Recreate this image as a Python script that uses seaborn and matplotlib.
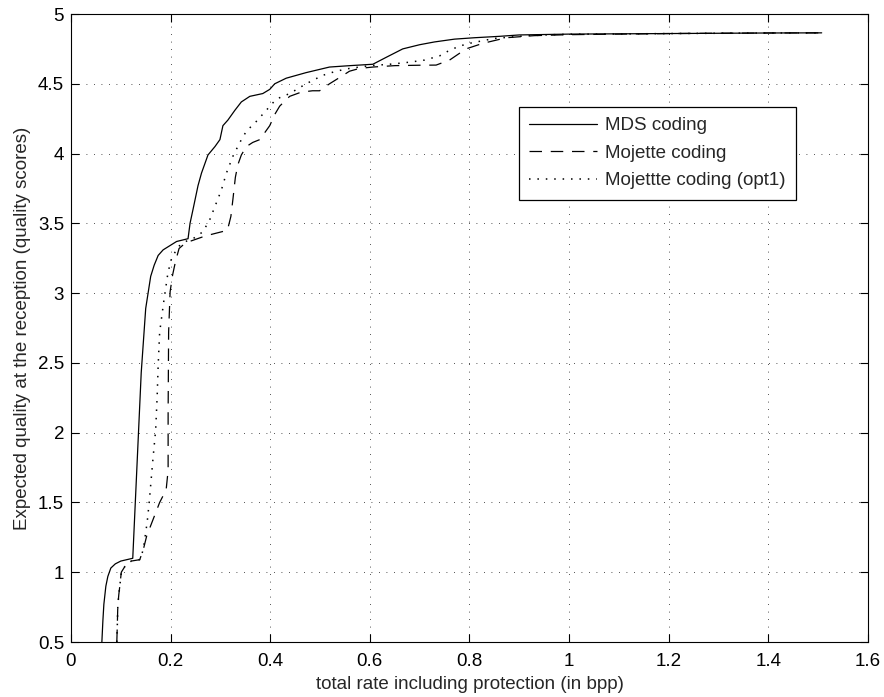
import matplotlib
matplotlib.use('Agg')
import matplotlib.pyplot as plt
import seaborn as sns
import pandas as pd
import numpy as np

# MDS coding
mds_x = [0.062, 0.064, 0.066, 0.070, 0.074, 0.080, 0.089, 0.100, 0.124, 0.141,
         0.150, 0.160, 0.167, 0.175, 0.185, 0.194, 0.212, 0.235, 0.239, 0.245,
         0.255, 0.262, 0.275, 0.289, 0.299, 0.305, 0.315, 0.329, 0.342, 0.359,
         0.385, 0.399, 0.409, 0.432, 0.472, 0.519, 0.560, 0.606, 0.633, 0.666,
         0.700, 0.730, 0.770, 0.810, 0.860, 0.900, 0.950, 1.000, 1.100, 1.200,
         1.300, 1.400, 1.507]
mds_y = [0.50, 0.65, 0.77, 0.90, 0.97, 1.03, 1.06, 1.08, 1.10, 2.43,
         2.89, 3.12, 3.20, 3.27, 3.31, 3.33, 3.37, 3.39, 3.50, 3.60,
         3.77, 3.86, 3.99, 4.05, 4.10, 4.20, 4.24, 4.31, 4.37, 4.41,
         4.43, 4.46, 4.50, 4.54, 4.58, 4.62, 4.63, 4.64, 4.69, 4.75,
         4.78, 4.80, 4.82, 4.83, 4.84, 4.85, 4.853, 4.856, 4.858, 4.86,
         4.862, 4.864, 4.865]

# Mojette coding
moj_x = [0.092, 0.093, 0.094, 0.096, 0.098, 0.101, 0.108, 0.121, 0.138, 0.145,
         0.152, 0.165, 0.178, 0.191, 0.195, 0.195, 0.196, 0.199, 0.204, 0.210,
         0.217, 0.230, 0.270, 0.314, 0.321, 0.325, 0.330, 0.335, 0.342, 0.352,
         0.365, 0.379, 0.399, 0.409, 0.419, 0.439, 0.462, 0.485, 0.499, 0.519,
         0.546, 0.559, 0.579, 0.606, 0.650, 0.700, 0.733, 0.760, 0.793, 0.827,
         0.874, 0.930, 1.000, 1.100, 1.200, 1.300, 1.400, 1.507]
moj_y = [0.50, 0.62, 0.76, 0.84, 0.90, 1.00, 1.04, 1.08, 1.09, 1.16,
         1.26, 1.38, 1.50, 1.59, 1.73, 2.14, 2.72, 3.01, 3.13, 3.23,
         3.32, 3.36, 3.41, 3.45, 3.55, 3.67, 3.83, 3.92, 3.99, 4.05,
         4.08, 4.10, 4.20, 4.28, 4.34, 4.41, 4.44, 4.45, 4.45, 4.50,
         4.56, 4.59, 4.61, 4.62, 4.63, 4.633, 4.634, 4.67, 4.75, 4.79,
         4.83, 4.845, 4.852, 4.856, 4.86, 4.862, 4.864, 4.865]

# Mojettte coding (opt1)
opt_x = [0.092, 0.093, 0.094, 0.096, 0.098, 0.101, 0.108, 0.121, 0.138, 0.145,
         0.153, 0.157, 0.164, 0.170, 0.173, 0.175, 0.178, 0.187, 0.194, 0.200,
         0.214, 0.230, 0.245, 0.265, 0.279, 0.290, 0.302, 0.312, 0.325, 0.339,
         0.352, 0.372, 0.392, 0.412, 0.439, 0.472, 0.505, 0.532, 0.559, 0.600,
         0.640, 0.680, 0.710, 0.740, 0.760, 0.780, 0.800, 0.850, 0.900, 0.950,
         1.000, 1.100, 1.200, 1.300, 1.400, 1.507]
opt_y = [0.50, 0.62, 0.76, 0.84, 0.90, 1.00, 1.04, 1.08, 1.09, 1.16,
         1.36, 1.50, 1.79, 2.02, 2.26, 2.48, 2.72, 2.96, 3.13, 3.23,
         3.33, 3.37, 3.39, 3.44, 3.53, 3.63, 3.74, 3.86, 3.98, 4.08,
         4.16, 4.23, 4.31, 4.39, 4.43, 4.50, 4.56, 4.59, 4.61, 4.63,
         4.64, 4.655, 4.67, 4.70, 4.74, 4.77, 4.79, 4.825, 4.84, 4.85,
         4.855, 4.857, 4.86, 4.862, 4.864, 4.865]

x_ticks = [0, 0.2, 0.4, 0.6, 0.8, 1, 1.2, 1.4, 1.6]
x_labels = ['0', '0.2', '0.4', '0.6', '0.8', '1', '1.2', '1.4', '1.6']
y_ticks = [0.5, 1, 1.5, 2, 2.5, 3, 3.5, 4, 4.5, 5]
y_labels = ['0.5', '1', '1.5', '2', '2.5', '3', '3.5', '4', '4.5', '5']

FS = 13.5

sns.set_style('ticks')
plt.rcParams['font.family'] = ['Liberation Sans', 'DejaVu Sans']
plt.rcParams['font.size'] = FS

fig = plt.figure(figsize=(8.84, 6.97), dpi=100)
ax = fig.add_axes([0.0803, 0.0789, 0.9016, 0.901])

sns.lineplot(x=mds_x, y=mds_y, estimator=None, sort=False, color='black',
             linewidth=0.9, label='MDS coding', ax=ax)
sns.lineplot(x=moj_x, y=moj_y, estimator=None, sort=False, color='black',
             linewidth=0.9, linestyle=(0, (10, 7)), label='Mojette coding', ax=ax)
sns.lineplot(x=opt_x, y=opt_y, estimator=None, sort=False, color='black',
             linewidth=1.1, linestyle=(0, (1, 4.5)), label='Mojettte coding (opt1)', ax=ax)

ax.set_xlim(0, 1.6)
ax.set_ylim(0.5, 5)
ax.set_xticks(x_ticks)
ax.set_xticklabels(x_labels)
ax.set_yticks(y_ticks)
ax.set_yticklabels(y_labels)
ax.tick_params(direction='in', length=6, width=0.8, top=True, right=True,
               labelsize=FS, pad=5, colors='black')
ax.tick_params(axis='x', pad=8)
ax.grid(True, linestyle=(0, (1, 8)), color='black', linewidth=0.6, alpha=0.9)
for s in ax.spines.values():
    s.set_linewidth(0.8)
    s.set_color('black')

ax.set_xlabel('total rate including protection (in bpp)', fontsize=FS, labelpad=4)
ax.set_ylabel('Expected quality at the reception (quality scores)', fontsize=FS, labelpad=5)

leg = ax.legend(loc='upper left', bbox_to_anchor=(0.562, 0.852), fontsize=FS,
                frameon=True, fancybox=False, edgecolor='black', framealpha=1,
                handlelength=3.6, borderpad=0.55, labelspacing=0.55, handletextpad=0.45,
                borderaxespad=0)
leg.get_frame().set_linewidth(0.9)

plt.savefig('out.png', dpi=100)
plt.close()
